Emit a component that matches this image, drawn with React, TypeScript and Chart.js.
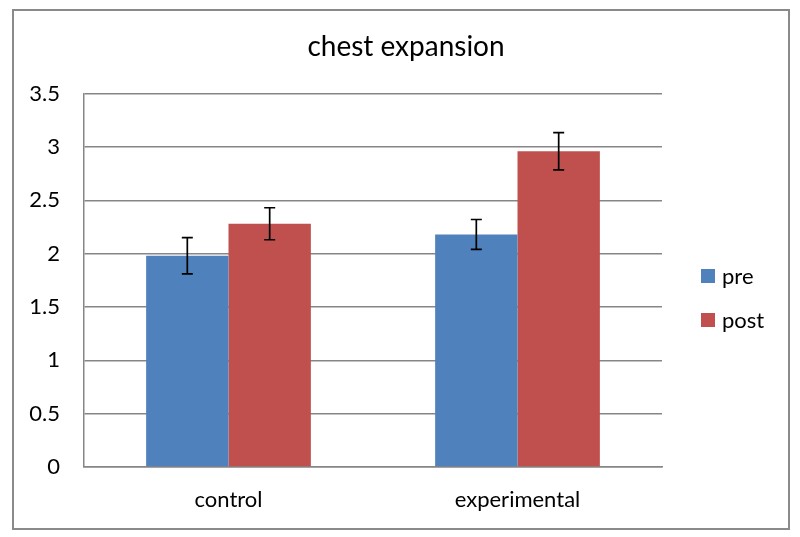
import { useEffect, useRef } from "react";
import { Chart, registerables } from "chart.js";

Chart.register(...registerables);

const categories = ["control", "experimental"];
const seriesNames = ["pre", "post"];
const preValues = [1.98, 2.18];
const postValues = [2.28, 2.96];
const preErrors = [0.17, 0.14];
const postErrors = [0.15, 0.175];
const yTicks = [0, 0.5, 1, 1.5, 2, 2.5, 3, 3.5];

const FONT = "Lato, 'Noto Sans', sans-serif";

// whiskers drawn on top of the bars
const errorBars = {
  id: "errorBars",
  afterDatasetsDraw(chart: any) {
    const { ctx } = chart;
    const y = chart.scales.y;
    const errs = [preErrors, postErrors];
    ctx.save();
    ctx.strokeStyle = "#000";
    ctx.lineWidth = 1.7;
    chart.data.datasets.forEach((ds: any, i: number) => {
      const meta = chart.getDatasetMeta(i);
      meta.data.forEach((bar: any, j: number) => {
        const v = ds.data[j];
        const top = y.getPixelForValue(v + errs[i][j]);
        const bot = y.getPixelForValue(v - errs[i][j]);
        ctx.beginPath();
        ctx.moveTo(bar.x, top);
        ctx.lineTo(bar.x, bot);
        ctx.moveTo(bar.x - 5.5, top);
        ctx.lineTo(bar.x + 5.5, top);
        ctx.moveTo(bar.x - 5.5, bot);
        ctx.lineTo(bar.x + 5.5, bot);
        ctx.stroke();
      });
    });
    ctx.restore();
  },
};

// legend at the right, like the spreadsheet one
const sideLegend = {
  id: "sideLegend",
  afterDraw(chart: any) {
    const { ctx } = chart;
    const x = 687;
    const rows = [265, 309];
    ctx.save();
    ctx.font = `22px ${FONT}`;
    ctx.textBaseline = "middle";
    chart.data.datasets.forEach((ds: any, i: number) => {
      ctx.fillStyle = ds.backgroundColor;
      ctx.fillRect(x, rows[i] - 7, 14, 14);
      ctx.fillStyle = "#000";
      ctx.fillText(ds.label, x + 21, rows[i] + 1);
    });
    ctx.restore();
  },
};

export default function App() {
  const chartRef = useRef<HTMLCanvasElement>(null);

  useEffect(() => {
    if (!chartRef.current) return;
    const chart = new Chart(chartRef.current, {
      type: "bar",
      data: {
        labels: categories,
        datasets: [
          {
            label: seriesNames[0],
            data: preValues,
            backgroundColor: "#4F81BD",
            categoryPercentage: 0.57,
            barPercentage: 1,
          },
          {
            label: seriesNames[1],
            data: postValues,
            backgroundColor: "#C0504D",
            categoryPercentage: 0.57,
            barPercentage: 1,
          },
        ],
      },
      options: {
        animation: false,
        responsive: false,
        layout: { padding: { left: 10, right: 0, top: 0, bottom: 0 } },
        plugins: {
          legend: { display: false },
          tooltip: { enabled: false },
          title: {
            display: true,
            text: "chest expansion",
            color: "#000",
            font: { family: FONT, size: 28, weight: "normal" },
            padding: { top: 19, bottom: 30 },
          },
        },
        scales: {
          x: {
            grid: { display: false, drawTicks: false },
            border: { color: "#868686", width: 1.5 },
            ticks: { color: "#000", padding: 20, font: { family: FONT, size: 22 } },
            afterFit: (s: any) => {
              s.height = 61;
            },
          },
          y: {
            min: 0,
            max: 3.5,
            afterBuildTicks: (s: any) => {
              s.ticks = yTicks.map((v) => ({ value: v }));
            },
            grid: { color: "#868686", lineWidth: 1.5, drawTicks: false },
            border: { color: "#868686", width: 1.5 },
            ticks: {
              color: "#000",
              padding: 24,
              font: { family: FONT, size: 22 },
              callback: (v: any) => String(v),
            },
            afterFit: (s: any) => {
              s.width = 60;
            },
          },
          // empty axis that keeps room for the legend
          side: {
            position: "right",
            display: true,
            grid: { display: false, drawTicks: false },
            border: { display: false },
            ticks: { display: false },
            afterFit: (s: any) => {
              s.width = 126;
            },
          },
        },
      },
      plugins: [errorBars, sideLegend],
    });
    return () => chart.destroy();
  }, []);

  return (
    <div style={{ position: "fixed", left: 0, top: 0, width: 800, height: 537, background: "#fff" }}>
      <div
        style={{
          position: "absolute",
          left: 12,
          top: 9,
          width: 778,
          height: 521,
          boxSizing: "border-box",
          border: "2px solid #8a8a8a",
        }}
      >
        <canvas ref={chartRef} width={774} height={517} style={{ display: "block" }}></canvas>
      </div>
    </div>
  );
}
